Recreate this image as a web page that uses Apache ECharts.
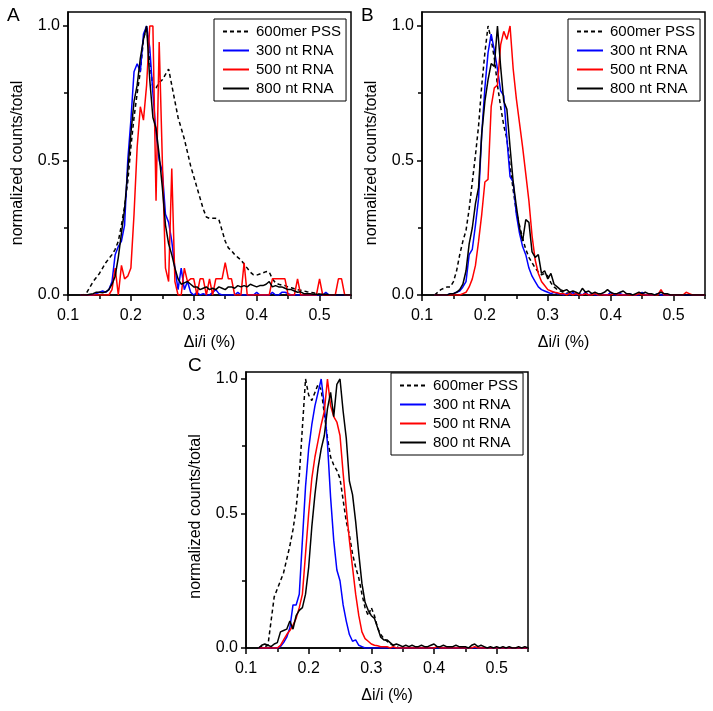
<!DOCTYPE html>
<html>
<head>
<meta charset="utf-8">
<script src="https://cdn.jsdelivr.net/npm/echarts@6/dist/echarts.min.js"></script>
<style>
  html, body { margin: 0; padding: 0; background: #fff; }
  #main { width: 713px; height: 711px; }
</style>
</head>
<body>
<div id="main"></div>
<script>
var FONT = 'Liberation Sans, Arial, sans-serif';

// bin positions, 0.12 .. 0.55 in steps of 0.005
var bins = [];
for (var i = 0; i <= 86; i++) bins.push(+(0.12 + 0.005 * i).toFixed(3));

var names = ['600mer PSS', '300 nt RNA', '500 nt RNA', '800 nt RNA'];
var xMajor = [0.1, 0.2, 0.3, 0.4, 0.5];
var xMinor = [0.15, 0.25, 0.35, 0.45, 0.55];
var yMajor = [0, 0.5, 1];
var yMinor = [0.25, 0.75];

// panel A
var dashA = [
  0, 0, 0.01, 0.03, 0.05, 0.065, 0.08, 0.1, 0.12, 0.135,
  0.15, 0.17, 0.2, 0.26, 0.33, 0.42, 0.55, 0.66, 0.75, 0.83,
  0.95, 1.0, 0.87, 0.77, 0.77, 0.79, 0.8, 0.82, 0.84, 0.78,
  0.72, 0.66, 0.62, 0.58, 0.53, 0.48, 0.44, 0.4, 0.36, 0.32,
  0.29, 0.285, 0.285, 0.285, 0.28, 0.24, 0.2, 0.175, 0.165, 0.15,
  0.14, 0.13, 0.115, 0.1, 0.085, 0.075, 0.074, 0.078, 0.082, 0.087,
  0.085, 0.06, 0.045, 0.04, 0.037, 0.035, 0.03, 0.027, 0.023, 0.02,
  0.018, 0.015, 0.012, 0.01, 0.008, 0.006, 0.004, 0.003, 0.002, 0,
  0, 0, 0, 0, 0, 0, 0
];
var blueA = [
  0, 0, 0, 0, 0, 0.005, 0.01, 0.015, 0.01, 0.02,
  0.05, 0.15, 0.18, 0.2, 0.26, 0.5, 0.65, 0.83, 0.86, 0.83,
  0.97, 1.0, 0.92, 0.75, 0.6, 0.5, 0.46, 0.3, 0.27, 0.2,
  0.1, 0.02, 0.1, 0.02, 0.05, 0.01, 0, 0.01, 0, 0.005,
  0, 0, 0.01, 0.02, 0.005, 0, 0, 0, 0, 0,
  0.01, 0, 0, 0, 0, 0, 0.01, 0, 0, 0,
  0, 0.01, 0, 0, 0.01, 0.01, 0.005, 0, 0, 0,
  0, 0, 0, 0, 0, 0, 0, 0, 0.01, 0,
  0, 0, 0, 0, 0, 0, 0
];
var redA = [
  0, 0, 0, 0, 0, 0, 0, 0, 0, 0,
  0.02, 0.1, 0, 0.11, 0.06, 0.07, 0.1, 0.3, 0.55, 0.7,
  0.65, 0.78, 1.0, 1.0, 0.35, 0.94, 0.5, 0.1, 0.05, 0.47,
  0.05, 0, 0, 0.1, 0.05, 0.06, 0.06, 0, 0.06, 0.06,
  0, 0.06, 0, 0.06, 0.06, 0.06, 0.12, 0.06, 0.06, 0,
  0, 0, 0.12, 0, 0, 0, 0, 0, 0, 0,
  0, 0.06, 0.06, 0.06, 0.06, 0.06, 0, 0, 0, 0.06,
  0, 0, 0, 0, 0, 0, 0.06, 0, 0, 0,
  0, 0, 0.06, 0.06, 0, 0, 0
];
var blackA = [
  0, 0, 0, 0.003, 0.005, 0.01, 0.01, 0.008, 0.012, 0.02,
  0.04, 0.07, 0.14, 0.23, 0.32, 0.46, 0.6, 0.72, 0.78, 0.88,
  0.95, 1.0, 0.8, 0.66, 0.62, 0.52, 0.4, 0.26, 0.19, 0.15,
  0.1, 0.06, 0.04, 0.045, 0.05, 0.04, 0.03, 0.03, 0.02, 0.025,
  0.03, 0.02, 0.025, 0.02, 0.03, 0.025, 0.02, 0.03, 0.03, 0.025,
  0.035, 0.03, 0.035, 0.03, 0.04, 0.035, 0.03, 0.035, 0.035, 0.04,
  0.05, 0.03, 0.035, 0.03, 0.03, 0.025, 0.02, 0.02, 0.015, 0.01,
  0.012, 0.005, 0.005, 0.005, 0.003, 0.003, 0.002, 0.002, 0.003, 0.001,
  0, 0, 0, 0, 0, 0, 0
];

// panel B
var dashB = [
  0, 0.01, 0.02, 0.025, 0.03, 0.03, 0.05, 0.09, 0.15, 0.2,
  0.24, 0.32, 0.42, 0.52, 0.63, 0.78, 0.9, 1.0, 0.95, 0.88,
  0.78, 0.7, 0.63, 0.58, 0.48, 0.39, 0.31, 0.26, 0.21, 0.17,
  0.14, 0.12, 0.1, 0.085, 0.075, 0.08, 0.07, 0.045, 0.03, 0.02,
  0.015, 0.01, 0.008, 0.007, 0.005, 0.003, 0.003, 0, 0, 0,
  0, 0, 0, 0, 0, 0, 0, 0, 0, 0,
  0, 0, 0, 0, 0, 0, 0, 0, 0, 0,
  0, 0, 0, 0, 0, 0, 0, 0, 0, 0,
  0, 0, 0, 0, 0, 0, 0
];
var blueB = [
  0, 0, 0, 0, 0, 0.005, 0.005, 0.01, 0.015, 0.03,
  0.05, 0.15, 0.17, 0.26, 0.36, 0.6, 0.77, 0.9, 0.97, 0.91,
  0.84, 0.76, 0.74, 0.58, 0.44, 0.42, 0.3, 0.23, 0.18, 0.15,
  0.1, 0.07, 0.05, 0.03, 0.02, 0.015, 0.01, 0.005, 0.01, 0.005,
  0.005, 0, 0.005, 0, 0.01, 0, 0.005, 0, 0.01, 0,
  0.005, 0, 0, 0.005, 0, 0, 0.01, 0, 0, 0.005,
  0, 0, 0.005, 0, 0, 0, 0.01, 0, 0, 0,
  0, 0.005, 0, 0, 0, 0, 0, 0, 0, 0,
  0, 0, 0, 0, 0, 0, 0
];
var redB = [
  0, 0, 0, 0, 0, 0, 0, 0, 0, 0.005,
  0.01, 0.03, 0.06, 0.11, 0.2, 0.3, 0.42, 0.43, 0.7, 0.77,
  0.78, 0.93, 0.98, 0.95, 1.0, 0.84, 0.73, 0.64, 0.55, 0.45,
  0.35, 0.22, 0.13, 0.08, 0.05, 0.035, 0.02, 0.015, 0.01, 0.008,
  0.005, 0.005, 0, 0.005, 0, 0.005, 0, 0, 0.005, 0,
  0, 0.005, 0, 0, 0, 0, 0, 0.005, 0, 0,
  0, 0, 0, 0, 0, 0.005, 0, 0, 0, 0,
  0, 0, 0.02, 0, 0, 0, 0, 0, 0, 0,
  0.01, 0.005, 0, 0, 0, 0, 0
];
var blackB = [
  0, 0, 0, 0, 0, 0.005, 0.005, 0.01, 0.02, 0.04,
  0.09, 0.19, 0.25, 0.34, 0.4, 0.6, 0.72, 0.8, 0.86, 0.85,
  1.0, 0.85, 0.72, 0.69, 0.55, 0.42, 0.33, 0.25, 0.2, 0.28,
  0.27, 0.16, 0.14, 0.15, 0.08, 0.09, 0.06, 0.08, 0.04, 0.03,
  0.02, 0.015, 0.02, 0.01, 0.015, 0.01, 0.005, 0.025, 0.01, 0.015,
  0.005, 0.01, 0.005, 0.005, 0.01, 0.02, 0.01, 0.005, 0.005, 0.01,
  0.015, 0.005, 0.005, 0, 0.005, 0.01, 0.005, 0.01, 0.005, 0.005,
  0, 0.005, 0.01, 0.005, 0.005, 0, 0, 0, 0, 0,
  0, 0, 0, 0, 0, 0, 0
];

// panel C
var dashC = [
  0, 0.005, 0.005, 0.01, 0.1, 0.19, 0.22, 0.25, 0.28, 0.33,
  0.38, 0.44, 0.52, 0.64, 0.82, 1.0, 0.94, 0.92, 0.95, 0.98,
  0.96, 0.87, 0.78, 0.71, 0.68, 0.66, 0.63, 0.55, 0.47, 0.42,
  0.35, 0.3, 0.26, 0.2, 0.15, 0.12, 0.15, 0.12, 0.075, 0.05,
  0.035, 0.025, 0.015, 0.01, 0.005, 0, 0, 0, 0, 0,
  0, 0, 0, 0, 0, 0, 0, 0, 0, 0,
  0, 0, 0, 0, 0, 0, 0, 0, 0, 0,
  0, 0, 0, 0, 0, 0, 0, 0, 0, 0,
  0, 0, 0, 0, 0, 0, 0
];
var blueC = [
  0, 0, 0, 0, 0, 0, 0, 0.005, 0.02, 0.04,
  0.075, 0.16, 0.16, 0.2, 0.4, 0.6, 0.74, 0.83, 0.9, 0.95,
  1.0, 0.9, 0.76, 0.56, 0.4, 0.29, 0.25, 0.16, 0.1, 0.05,
  0.025, 0.03, 0.01, 0.005, 0, 0, 0, 0, 0, 0,
  0, 0, 0, 0, 0, 0, 0, 0, 0, 0,
  0, 0, 0, 0, 0, 0, 0, 0, 0, 0,
  0, 0, 0, 0, 0, 0, 0, 0, 0, 0,
  0, 0, 0, 0, 0, 0, 0, 0, 0, 0,
  0, 0, 0, 0, 0, 0, 0
];
var redC = [
  0, 0, 0, 0, 0, 0, 0, 0.01, 0.03, 0.05,
  0.065, 0.085, 0.11, 0.15, 0.2, 0.35, 0.5, 0.63, 0.71, 0.77,
  0.83, 0.88, 1.0, 0.9, 0.86, 0.84, 0.79, 0.65, 0.52, 0.4,
  0.3, 0.2, 0.12, 0.06, 0.035, 0.025, 0.015, 0.01, 0.008, 0.005,
  0.005, 0.005, 0, 0.005, 0, 0, 0, 0, 0, 0,
  0, 0, 0, 0, 0, 0, 0, 0.005, 0, 0,
  0, 0, 0, 0, 0, 0, 0, 0, 0, 0.005,
  0, 0, 0, 0, 0, 0, 0, 0, 0, 0,
  0, 0, 0, 0, 0, 0, 0
];
var blackC = [
  0, 0.01, 0.015, 0.01, 0.005, 0.015, 0.02, 0.06, 0.065, 0.07,
  0.1, 0.07, 0.12, 0.14, 0.15, 0.2, 0.3, 0.45, 0.57, 0.67,
  0.74, 0.79, 0.89, 0.95, 0.86, 0.98, 1.0, 0.88, 0.78, 0.62,
  0.57, 0.47, 0.35, 0.24, 0.17, 0.14, 0.12, 0.11, 0.075, 0.04,
  0.03, 0.03, 0.02, 0.01, 0.015, 0.01, 0.005, 0.01, 0.005, 0.01,
  0.005, 0.005, 0.01, 0.005, 0.005, 0.01, 0.015, 0.005, 0.005, 0.01,
  0.005, 0.005, 0.005, 0.01, 0.005, 0.005, 0.005, 0, 0.01, 0.015,
  0.005, 0.01, 0.005, 0, 0.005, 0, 0.005, 0, 0.005, 0,
  0.005, 0, 0, 0.005, 0, 0.005, 0
];

var panels = [
  { letter: 'A', grid: { left: 68, top: 12, width: 283, height: 283 }, yMax: 1.052, namePad: 19,
    legend: { left: 214, top: 19 }, title: { left: 7, top: 6 },
    series: [dashA, blueA, redA, blackA] },
  { letter: 'B', grid: { left: 422, top: 12, width: 283, height: 283 }, yMax: 1.052, namePad: 19,
    legend: { left: 568, top: 19 }, title: { left: 361, top: 6 },
    series: [dashB, blueB, redB, blackB] },
  { letter: 'C', grid: { left: 246, top: 372, width: 282, height: 276 }, yMax: 1.026, namePad: 13,
    legend: { left: 391, top: 373 }, title: { left: 188, top: 356 },
    series: [dashC, blueC, redC, blackC] }
];
var colors = ['#000000', '#0000ff', '#ff0000', '#000000'];

var chartDom = document.getElementById('main');
var myChart = echarts.init(chartDom, null, { renderer: 'canvas' });

var option = {
  animation: false,
  backgroundColor: '#fff',
  textStyle: { fontFamily: FONT, color: '#000' },
  title: [],
  grid: [],
  legend: [],
  xAxis: [],
  yAxis: [],
  series: []
};

panels.forEach(function (p, k) {
  option.title.push({
    text: p.letter, left: p.title.left, top: p.title.top, padding: 0,
    textStyle: { fontSize: 19, fontWeight: 'normal', color: '#000', fontFamily: FONT }
  });
  option.grid.push(Object.assign({
    show: true, borderColor: '#000', borderWidth: 1.5, backgroundColor: 'transparent'
  }, p.grid));
  option.legend.push({
    left: p.legend.left, top: p.legend.top, orient: 'vertical',
    data: names,
    itemWidth: 26, itemHeight: 14, itemGap: 4,
    padding: [5, 5, 5, 8],
    borderColor: '#000', borderWidth: 1, borderRadius: 0,
    backgroundColor: '#fff',
    itemStyle: { opacity: 0 },
    textStyle: { fontSize: 15, color: '#000', fontFamily: FONT, padding: [0, 0, 0, 2] },
    selectedMode: false
  });
  // main x axis
  option.xAxis.push({
    type: 'value', gridIndex: k, min: 0.1, max: 0.55, position: 'bottom',
    name: 'Δi/i (%)', nameLocation: 'middle', nameGap: 40,
    nameTextStyle: { fontSize: 16, color: '#000', fontFamily: FONT },
    axisLine: { show: true, onZero: false, lineStyle: { color: '#000', width: 1.5 } },
    axisTick: { show: true, length: 6, customValues: xMajor, lineStyle: { color: '#000', width: 1.5 } },
    axisLabel: { customValues: xMajor, fontSize: 16, color: '#000', margin: 13,
      formatter: function (v) { return v.toFixed(1); } },
    splitLine: { show: false }
  });
  // minor x ticks
  option.xAxis.push({
    type: 'value', gridIndex: k, min: 0.1, max: 0.55, position: 'bottom',
    axisLine: { show: false },
    axisTick: { show: true, length: 4, customValues: xMinor, lineStyle: { color: '#000', width: 1.5 } },
    axisLabel: { show: false },
    splitLine: { show: false }
  });
  option.yAxis.push({
    type: 'value', gridIndex: k, min: 0, max: p.yMax, position: 'left',
    name: 'normalized counts/total', nameLocation: 'middle', nameGap: 42, nameRotate: 90,
    nameTextStyle: { fontSize: 16, color: '#000', fontFamily: FONT, padding: [0, p.namePad, 0, 0] },
    axisLine: { show: true, onZero: false, lineStyle: { color: '#000', width: 1.5 } },
    axisTick: { show: true, length: 5, customValues: yMajor, lineStyle: { color: '#000', width: 1.5 } },
    axisLabel: { customValues: yMajor, fontSize: 16, color: '#000', margin: 8,
      formatter: function (v) { return v.toFixed(1); } },
    splitLine: { show: false }
  });
  option.yAxis.push({
    type: 'value', gridIndex: k, min: 0, max: p.yMax, position: 'left',
    axisLine: { show: false },
    axisTick: { show: true, length: 4, customValues: yMinor, lineStyle: { color: '#000', width: 1.5 } },
    axisLabel: { show: false },
    splitLine: { show: false }
  });
  p.series.forEach(function (ys, j) {
    option.series.push({
      name: names[j],
      type: 'line',
      xAxisIndex: k * 2,
      yAxisIndex: k * 2,
      symbol: 'none',
      clip: true,
      data: bins.map(function (x, i) { return [x, ys[i]]; }),
      lineStyle: { color: colors[j], width: 1.5, type: j === 0 ? [4, 3] : 'solid' },
      itemStyle: { color: colors[j] }
    });
  });
});

option && myChart.setOption(option);
</script>
</body>
</html>
